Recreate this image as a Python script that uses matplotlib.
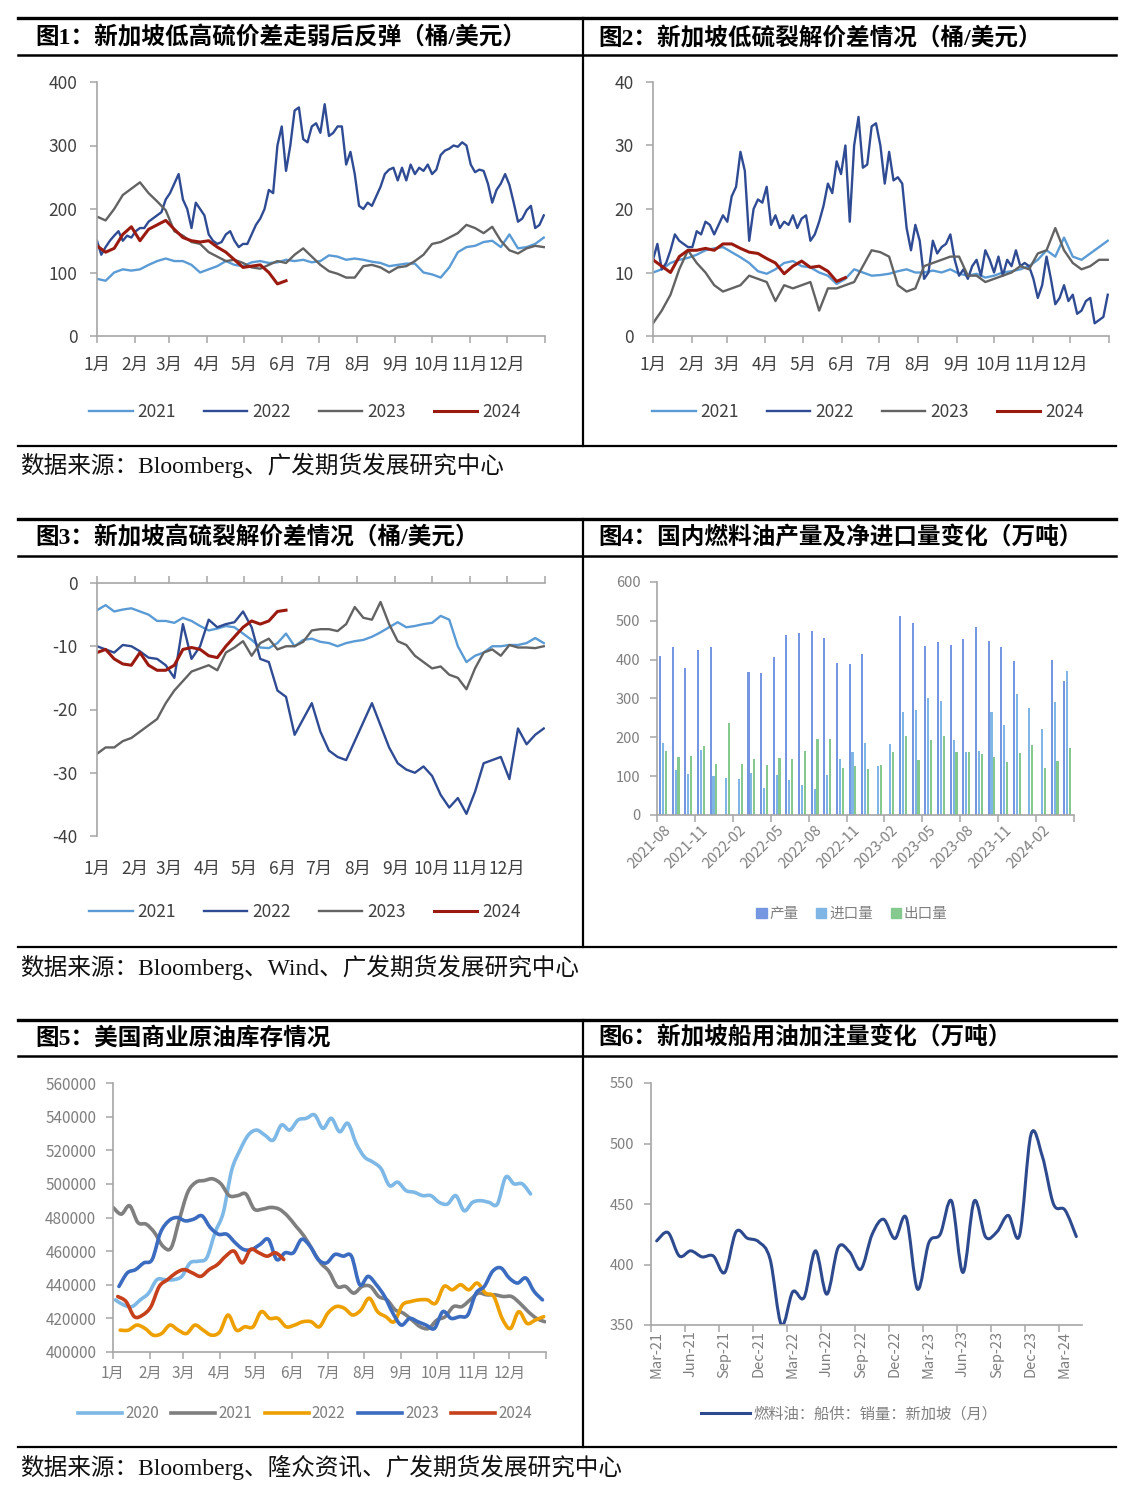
import numpy as np
import pandas as pd
import matplotlib
matplotlib.use("Agg")
import matplotlib.pyplot as plt
from matplotlib.lines import Line2D
from matplotlib.patches import Patch, PathPatch
from matplotlib.path import Path

plt.rcParams['font.family'] = ['Noto Sans CJK SC', 'DejaVu Sans']
plt.rcParams['axes.unicode_minus'] = False

W, H = 1140, 1497

# ---------------- data ----------------
years4 = ['2021', '2022', '2023', '2024']
months = ['1月', '2月', '3月', '4月', '5月', '6月', '7月', '8月', '9月', '10月', '11月', '12月']

# fig1: Singapore LS-HS spread (weekly readings, 2022 twice a week)
p1_2021 = [90, 87, 100, 105, 103, 105, 112, 118, 122, 118, 118, 112, 100, 105, 110, 118, 112, 110,
           116, 118, 115, 116, 120, 118, 120, 116, 118, 127, 125, 120, 122, 120, 117, 115, 110, 112,
           114, 114, 100, 97, 92, 108, 132, 140, 142, 148, 150, 140, 160, 138, 140, 145, 155]
p1_2022 = [150, 128, 140, 150, 158, 165, 150, 158, 155, 165, 170, 170, 180, 185, 190, 195, 215, 225,
           240, 255, 215, 200, 170, 210, 200, 190, 160, 150, 145, 148, 160, 165, 150, 140, 145, 145,
           160, 175, 185, 200, 230, 225, 300, 330, 260, 300, 355, 360, 310, 305, 330, 335, 320, 365,
           315, 320, 330, 330, 270, 290, 255, 205, 200, 210, 205, 220, 235, 255, 262, 265, 245, 265,
           245, 270, 255, 265, 260, 270, 255, 262, 285, 292, 295, 300, 298, 305, 300, 270, 258, 262,
           260, 240, 210, 230, 240, 255, 238, 210, 180, 185, 198, 205, 170, 175, 190]
p1_2023 = [188, 182, 200, 222, 232, 242, 225, 212, 198, 165, 158, 148, 145, 132, 125, 118, 120, 115,
           108, 106, 112, 118, 115, 128, 138, 125, 112, 102, 98, 92, 92, 110, 112, 108, 100, 108,
           110, 118, 128, 145, 148, 155, 162, 175, 170, 162, 172, 150, 135, 130, 138, 142, 140]
p1_2024 = [142, 132, 138, 160, 172, 150, 168, 175, 182, 168, 155, 150, 148, 150, 140, 132, 120, 108,
           110, 112, 100, 82, 87]

# fig2: Singapore LSFO crack
p2_2021 = [10.0, 10.5, 11.5, 12.0, 12.3, 12.8, 13.5, 13.8, 14.0, 13.2, 12.4, 11.5, 10.2, 9.8, 10.5,
           11.5, 11.8, 11.0, 10.8, 10.0, 9.5, 8.2, 9.0, 10.5, 10.0, 9.5, 9.6, 9.8, 10.2, 10.5, 10.0,
           10.0, 10.3, 10.0, 10.5, 9.8, 9.5, 9.8, 9.2, 9.5, 10.0, 10.2, 10.5, 11.0, 12.0, 13.5, 12.5,
           15.5, 12.5, 12.0, 13.0, 14.0, 15.0]
p2_2022 = [12.0, 14.5, 10.5, 11.5, 13.5, 16.0, 15.0, 14.5, 14.0, 14.0, 16.5, 16.0, 18.0, 17.5, 16.0,
           17.5, 19.0, 18.0, 22.0, 23.5, 29.0, 26.0, 15.0, 20.0, 21.5, 21.0, 23.5, 17.5, 19.0, 17.0,
           18.0, 17.5, 19.0, 17.0, 18.5, 19.0, 15.0, 16.0, 18.0, 20.5, 24.0, 22.5, 27.5, 25.5, 30.0,
           18.0, 30.0, 34.5, 26.5, 27.0, 33.0, 33.5, 30.0, 24.0, 29.0, 24.5, 25.0, 24.0, 17.0, 13.5,
           17.5, 15.0, 9.0, 10.0, 15.0, 13.0, 14.0, 14.5, 16.0, 12.0, 9.5, 10.5, 9.0, 11.0, 12.0,
           9.5, 13.5, 12.0, 10.0, 12.5, 9.5, 12.0, 11.0, 13.5, 11.0, 11.5, 11.0, 9.0, 6.0, 8.0, 12.5,
           9.0, 5.0, 6.0, 8.0, 5.5, 6.5, 3.5, 4.0, 5.5, 6.0, 2.0, 2.5, 3.0, 6.5]
p2_2023 = [2.0, 4.0, 6.5, 10.5, 13.5, 11.5, 10.0, 8.0, 7.0, 7.5, 8.0, 9.5, 9.0, 8.5, 5.5, 8.0, 7.5,
           8.0, 8.5, 4.0, 7.5, 7.5, 8.0, 8.5, 11.0, 13.5, 13.2, 12.5, 8.0, 7.0, 7.5, 11.0, 11.5, 12.0,
           12.5, 12.5, 9.5, 9.5, 8.5, 9.0, 9.5, 10.0, 11.0, 10.5, 13.0, 13.5, 17.0, 13.5, 11.5, 10.5,
           11.0, 12.0, 12.0]
p2_2024 = [12.0, 11.0, 10.0, 12.5, 13.5, 13.5, 13.8, 13.5, 14.5, 14.5, 13.8, 13.2, 13.0, 12.2, 11.5,
           9.8, 11.0, 11.8, 10.8, 11.0, 10.2, 8.6, 9.2]

# fig3: Singapore HSFO crack
p3_2021 = [-4.3, -3.5, -4.5, -4.2, -4.0, -4.5, -5.0, -6.0, -6.0, -6.3, -5.5, -6.0, -6.8, -7.5, -7.2,
           -6.8, -7.0, -8.0, -9.0, -10.2, -10.3, -9.5, -8.0, -10.0, -9.0, -8.8, -9.3, -9.5, -10.0,
           -9.5, -9.2, -9.0, -8.5, -7.8, -7.0, -6.2, -7.0, -6.8, -6.5, -6.3, -5.2, -5.8, -10.0,
           -12.5, -11.5, -11.0, -10.0, -10.0, -9.8, -9.8, -9.5, -8.7, -9.5]
p3_2022 = [-10.0, -10.5, -11.0, -9.8, -10.0, -10.8, -11.8, -12.0, -13.0, -15.0, -6.5, -12.0, -10.0,
           -5.8, -7.0, -6.5, -6.2, -4.5, -7.0, -12.0, -12.5, -17.0, -18.0, -24.0, -21.5, -19.0,
           -23.5, -26.5, -27.5, -28.0, -25.0, -22.0, -19.0, -22.5, -26.0, -28.5, -29.5, -30.0,
           -29.0, -30.5, -33.5, -35.5, -34.0, -36.5, -33.0, -28.5, -28.0, -27.5, -31.0, -23.0,
           -25.5, -24.0, -23.0]
p3_2023 = [-27.0, -26.0, -26.0, -25.0, -24.5, -23.5, -22.5, -21.5, -19.0, -17.0, -15.5, -14.0,
           -13.5, -13.0, -13.8, -11.0, -10.2, -9.2, -11.5, -9.5, -8.8, -10.5, -10.0, -10.0, -9.3,
           -7.5, -7.3, -7.3, -7.6, -6.5, -3.8, -5.5, -5.8, -3.0, -6.5, -9.2, -9.8, -11.5, -12.5,
           -13.5, -13.2, -14.5, -15.0, -16.8, -13.5, -11.0, -10.5, -11.5, -9.8, -10.2, -10.2,
           -10.3, -10.0]
p3_2024 = [-11.0, -10.5, -12.0, -12.8, -13.0, -11.0, -13.0, -13.8, -13.8, -13.0, -10.5, -10.2,
           -10.5, -11.5, -11.8, -10.0, -8.5, -7.0, -6.0, -6.5, -6.0, -4.5, -4.3]

# fig4: domestic fuel oil output / import / export (万吨), 2021-08 .. 2024-04
p4_months = pd.date_range('2021-08-01', periods=33, freq='MS')
p4_output = [409, 433, 379, 426, 433, np.nan, np.nan, 368, 366, 407, 463, 468, 475, 456, 391, 388,
             415, np.nan, np.nan, 512, 495, 436, 445, 439, 454, 485, 447, 432, 397, np.nan, np.nan,
             400, 344]
p4_import = [185, 116, 106, 168, 100, 95, 92, 108, 70, 102, 90, 76, 66, 102, 143, 162, 185, 127,
             183, 265, 270, 300, 294, 192, 161, 164, 266, 232, 312, 276, 221, 290, 370]
p4_export = [166, 149, 151, 178, 132, 238, 132, 144, 129, 146, 144, 164, 196, 195, 120, 126, 119,
             130, 161, 203, 142, 192, 203, 162, 161, 158, 150, 136, 160, 180, 122, 139, 172]
p4_names = ['产量', '进口量', '出口量']

# fig5: US commercial crude stocks (千桶), weekly
years5 = ['2020', '2021', '2022', '2023', '2024']
p5_start = ['2020-01-03', '2021-01-01', '2022-01-07', '2023-01-06', '2024-01-05']
p5_2020 = [431, 428, 427, 431, 435, 443, 443, 443, 445, 453, 454, 456, 471, 483, 508, 520, 529, 532,
           529, 526, 535, 532, 538, 539, 541, 533, 539, 531, 536, 524, 516, 513, 509, 499, 501, 496,
           495, 493, 493, 489, 488, 493, 484, 489, 490, 489, 488, 504, 500, 500, 494]
p5_2021 = [486, 482, 487, 477, 476, 471, 463, 462, 479, 495, 501, 502, 503, 500, 493, 493, 494, 485,
           485, 486, 485, 481, 475, 469, 461, 453, 448, 439, 439, 435, 439, 439, 433, 431, 425, 423,
           419, 415, 414, 419, 421, 427, 427, 431, 435, 434, 434, 433, 433, 429, 424, 420, 418]
p5_2022 = [413, 413, 416, 414, 410, 411, 416, 413, 411, 416, 413, 410, 412, 422, 413, 415, 415, 424,
           420, 420, 415, 416, 418, 418, 415, 423, 427, 426, 422, 425, 432, 424, 421, 418, 428, 430,
           431, 431, 429, 439, 437, 440, 437, 441, 435, 433, 420, 414, 424, 417, 419, 421]
p5_2023 = [439, 447, 449, 453, 455, 471, 478, 480, 478, 479, 481, 474, 470, 470, 465, 461, 461, 464,
           467, 455, 459, 459, 467, 463, 455, 453, 458, 457, 457, 440, 445, 440, 433, 423, 416, 420,
           418, 416, 414, 424, 420, 421, 422, 435, 439, 448, 450, 444, 441, 444, 436, 431]
p5_2024 = [433, 430, 421, 422, 427, 439, 443, 447, 449, 447, 445, 449, 452, 457, 460, 453, 461, 459,
           457, 459, 455]

# fig6: Singapore bunker sales (万吨), monthly from 2021-03
p6_months = pd.date_range('2021-03-01', periods=38, freq='MS')
p6_sales = [419.5, 426.4, 407.0, 411.3, 406.3, 407.0, 393.4, 427.0, 421.7, 418.7, 404.4, 350.0,
            377.5, 372.8, 411.3, 375.5, 414.0, 410.4, 396.1, 425.0, 437.4, 421.4, 438.7, 379.7,
            418.1, 425.0, 452.5, 393.4, 452.5, 422.8, 427.0, 440.6, 424.2, 507.4, 489.5, 449.7,
            445.0, 423.1]

titles = ['图1：新加坡低高硫价差走弱后反弹（桶/美元）', '图2：新加坡低硫裂解价差情况（桶/美元）',
          '图3：新加坡高硫裂解价差情况（桶/美元）', '图4：国内燃料油产量及净进口量变化（万吨）',
          '图5：美国商业原油库存情况', '图6：新加坡船用油加注量变化（万吨）']
sources = ['数据来源：Bloomberg、广发期货发展研究中心',
           '数据来源：Bloomberg、Wind、广发期货发展研究中心',
           '数据来源：Bloomberg、隆众资讯、广发期货发展研究中心']

# ---------------- helpers ----------------
c4 = ['#5B9BD5', '#2F4B93', '#636363', '#9B1A10']
c5 = ['#7DB8E6', '#7F7F7F', '#EDA000', '#3B6CC0', '#C6401C']
axis_c = '#A6A6A6'
ms = pd.date_range('2023-01-01', periods=13, freq='MS')
month_start = (ms - ms[0]).days.values


def rect(x0, y0, x1, y1):
    return [x0 / W, 1 - y1 / H, (x1 - x0) / W, (y1 - y0) / H]


def hline(y, x0=18, x1=1116, lw=2.0):
    fig.add_artist(Line2D([x0 / W, x1 / W], [1 - y / H, 1 - y / H], color='black', lw=lw))


def vline(x, y0, y1, lw=1.6):
    fig.add_artist(Line2D([x / W, x / W], [1 - y0 / H, 1 - y1 / H], color='black', lw=lw))


def style(ax, size, lab_c):
    for s in ['top', 'right']:
        ax.spines[s].set_visible(False)
    for s in ['left', 'bottom']:
        ax.spines[s].set_color(axis_c)
        ax.spines[s].set_linewidth(1.2)
    ax.tick_params(length=5, width=1.1, color=axis_c, labelcolor=lab_c, labelsize=size)


def smooth(ax, x, y, **kw):
    x = np.asarray(x, float)
    y = np.asarray(y, float)
    verts = [(x[0], y[0])]
    codes = [Path.MOVETO]
    for i in range(len(x) - 1):
        xa, ya = (x[i - 1], y[i - 1]) if i > 0 else (x[i], y[i])
        xb, yb = (x[i + 2], y[i + 2]) if i + 2 < len(x) else (x[i + 1], y[i + 1])
        verts += [(x[i] + (x[i + 1] - xa) / 6, y[i] + (y[i + 1] - ya) / 6),
                  (x[i + 1] - (xb - x[i]) / 6, y[i + 1] - (yb - y[i]) / 6),
                  (x[i + 1], y[i + 1])]
        codes += [Path.CURVE4] * 3
    ax.add_patch(PathPatch(Path(verts, codes), fill=False, capstyle='round', joinstyle='round', **kw))


def year_panel(box, series, steps, ylim, yticks, leg_xy, top_axis=False):
    ax = fig.add_axes(rect(*box))
    for vals, step, col, yr in zip(series, steps, c4, years4):
        lw = 2.2 if yr == '2024' else 1.7
        ax.plot(np.arange(len(vals)) * step, vals, color=col, lw=lw, label=yr)
    ax.set_xlim(0, 365)
    ax.set_ylim(*ylim)
    ax.set_yticks(yticks)
    ax.set_xticks(month_start)
    ax.set_xticklabels(months + [''])
    style(ax, 12.5, '#404040')
    ax.tick_params(axis='y', pad=9)
    ax.tick_params(axis='x', pad=9)
    if top_axis:
        ax.spines['bottom'].set_visible(False)
        ax.spines['top'].set_visible(True)
        ax.spines['top'].set_color(axis_c)
        ax.spines['top'].set_linewidth(1.2)
        ax.tick_params(axis='x', top=True, bottom=False, labeltop=False, labelbottom=True, pad=12)
    ax.legend(loc='center', bbox_to_anchor=(leg_xy[0] / W, 1 - leg_xy[1] / H),
              bbox_transform=fig.transFigure, ncol=4, frameon=False, fontsize=12.5,
              handlelength=2.5, handletextpad=0.3, columnspacing=1.6, labelcolor='#404040')
    return ax


fig = plt.figure(figsize=(W / 100, H / 100), dpi=100)

# frame lines, headers and sources
for top, mid, bot, src_y, src in [(18, 55, 446, 465, sources[0]),
                                   (519, 556, 947, 967, sources[1]),
                                   (1020, 1056, 1447, 1467, sources[2])]:
    hline(top, lw=2.4)
    hline(mid, lw=1.8)
    hline(bot, lw=1.6)
    vline(583, top, bot)
    fig.text(20 / W, 1 - src_y / H, src, fontsize=17, va='center', color='#111111',
             family=['Liberation Serif', 'Noto Sans CJK SC'])

for i, t in enumerate(titles):
    x = 35 if i % 2 == 0 else 598
    y = [38, 38, 538, 538, 1038, 1038][i]
    fig.text(x / W, 1 - y / H, t, fontsize=17, fontweight='bold', va='center', color='black',
             family=['Liberation Serif', 'Noto Sans CJK SC'])

# panels 1-3
year_panel((97, 82, 545, 336), [p1_2021, p1_2022, p1_2023, p1_2024], [7, 3.5, 7, 7], (0, 400),
           [0, 100, 200, 300, 400], (305, 412))
year_panel((653, 82, 1109, 336), [p2_2021, p2_2022, p2_2023, p2_2024], [7, 3.5, 7, 7], (0, 40),
           [0, 10, 20, 30, 40], (868, 412))
year_panel((97, 583, 545, 836), [p3_2021, p3_2022, p3_2023, p3_2024], [7, 7, 7, 7], (-40, 0),
           [-40, -30, -20, -10, 0], (305, 912), top_axis=True)

# panel 4: bars
ax4 = fig.add_axes(rect(657, 582, 1074, 815))
xc = np.arange(len(p4_months)) + 0.47
bar_c = ['#7596E0', '#7FB6E6', '#86C98F']
for off, vals, col, nm in zip([-0.23, 0, 0.23], [p4_output, p4_import, p4_export], bar_c, p4_names):
    ax4.bar(xc + off, vals, width=0.17, color=col, label=nm)
ax4.set_xlim(0, len(p4_months))
ax4.set_ylim(0, 600)
ax4.set_yticks(range(0, 601, 100))
style(ax4, 10.5, '#7F7F7F')
ax4.tick_params(axis='y', pad=7)
ax4.set_xticks(np.arange(0, len(p4_months) + 1, 3))
ax4.set_xticklabels([])
ax4.set_xticks(np.arange(0, len(p4_months), 3) + 0.5, minor=True)
ax4.set_xticklabels(p4_months[::3].strftime('%Y-%m'), minor=True, rotation=45, ha='right',
                    rotation_mode='anchor')
ax4.tick_params(axis='x', which='minor', length=0, pad=6, labelsize=10.5, labelcolor='#7F7F7F')
h4 = [Patch(color=c) for c in bar_c]
ax4.legend(h4, p4_names, loc='center', bbox_to_anchor=(852 / W, 1 - 914 / H),
           bbox_transform=fig.transFigure, ncol=3, frameon=False, fontsize=10.5,
           handlelength=0.7, handleheight=0.7, handletextpad=0.2, columnspacing=1.2,
           labelcolor='#7F7F7F')

# panel 5: US crude stocks
ax5 = fig.add_axes(rect(113, 1083, 546, 1352))
for vals, st, col in zip([p5_2020, p5_2021, p5_2022, p5_2023, p5_2024], p5_start, c5):
    days = pd.date_range(st, periods=len(vals), freq='7D').dayofyear.values - 1
    smooth(ax5, days, np.array(vals) * 1000, color=col, lw=2.6)
ax5.set_xlim(0, 365)
ax5.set_ylim(400000, 560000)
ax5.set_yticks(range(400000, 560001, 20000))
ax5.set_xticks(month_start)
ax5.set_xticklabels(months + [''])
style(ax5, 11, '#7F7F7F')
ax5.tick_params(axis='y', pad=7)
ax5.tick_params(axis='x', pad=4)
h5 = [Line2D([], [], color=c, lw=2.6) for c in c5]
ax5.legend(h5, years5, loc='center', bbox_to_anchor=(305 / W, 1 - 1414 / H),
           bbox_transform=fig.transFigure, ncol=5, frameon=False, fontsize=11,
           handlelength=2.9, handletextpad=0.2, columnspacing=0.8, labelcolor='#7F7F7F')

# panel 6: Singapore bunker sales
ax6 = fig.add_axes(rect(651, 1083, 1082, 1325))
smooth(ax6, np.arange(len(p6_sales)) + 0.5, p6_sales, color='#2E4A8E', lw=2.2)
ax6.set_xlim(0, len(p6_months))
ax6.set_ylim(350, 550)
ax6.set_yticks(range(350, 551, 50))
style(ax6, 10.5, '#7F7F7F')
ax6.tick_params(axis='y', pad=7)
ax6.set_xticks(np.arange(0, len(p6_months), 3))
ax6.set_xticklabels([])
ax6.set_xticks(np.arange(0, len(p6_months), 3) + 0.5, minor=True)
ax6.set_xticklabels(p6_months[::3].strftime('%b-%y'), minor=True, rotation=90, ha='center', va='top')
ax6.tick_params(axis='x', which='minor', length=0, pad=4, labelsize=10.5, labelcolor='#7F7F7F')
ax6.legend([Line2D([], [], color='#2E4A8E', lw=2.2)], ['燃料油：船供：销量：新加坡（月）'],
           loc='center', bbox_to_anchor=(849 / W, 1 - 1414 / H), bbox_transform=fig.transFigure,
           frameon=False, fontsize=11, handlelength=3.2, handletextpad=0.2, labelcolor='#7F7F7F')

fig.savefig('out.png', dpi=100)
